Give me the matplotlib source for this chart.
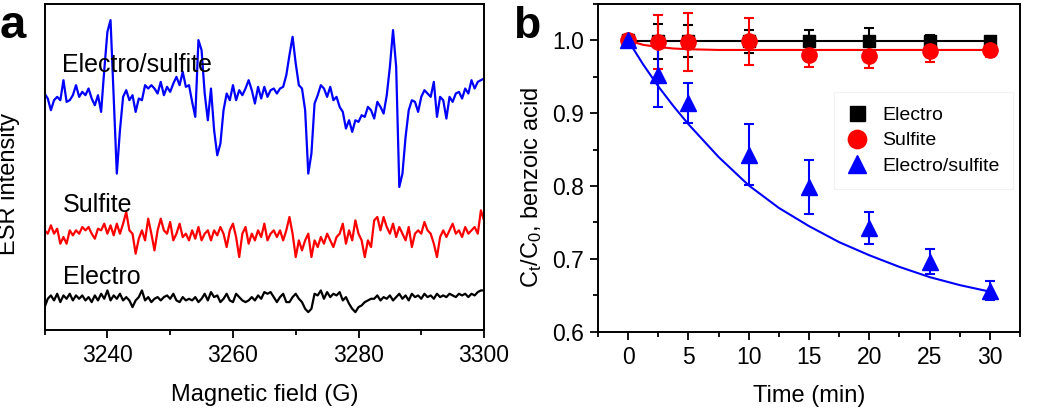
import matplotlib
matplotlib.use("Agg")
import matplotlib.pyplot as plt
import numpy as np
from matplotlib.ticker import MultipleLocator

plt.rcParams["font.family"] = ["Liberation Sans", "DejaVu Sans"]
plt.rcParams["mathtext.default"] = "regular"

# ---- panel a: ESR spectra (field sampled every 0.5 G, intensity in a.u.) ----
field = np.arange(3230, 3300.01, 0.5)

esr_electro_sulfite = [
    720, 705, 670, 700, 710, 700, 760, 695, 700, 715,
    745, 710, 725, 715, 735, 705, 685, 715, 665, 790,
    905, 940, 710, 480, 610, 710, 730, 700, 715, 665,
    705, 700, 745, 735, 745, 735, 720, 755, 715, 740,
    725, 750, 770, 745, 785, 740, 745, 695, 650, 880,
    850, 720, 640, 735, 610, 535, 570, 670, 720, 700,
    745, 700, 730, 715, 735, 760, 730, 690, 740, 705,
    740, 710, 730, 735, 720, 735, 740, 775, 835, 890,
    810, 745, 735, 670, 480, 540, 690, 715, 745, 735,
    710, 740, 700, 710, 680, 665, 615, 640, 605, 640,
    635, 655, 650, 680, 670, 645, 695, 680, 660, 715,
    800, 910, 800, 440, 480, 590, 670, 700, 695, 665,
    710, 730, 720, 710, 755, 650, 710, 700, 645, 710,
    695, 720, 725, 705, 735, 720, 760, 735, 755, 760,
    765]

esr_sulfite = [
    310, 300, 325, 300, 315, 270, 290, 270, 310, 295,
    310, 300, 320, 310, 320, 300, 285, 315, 310, 330,
    300, 325, 295, 330, 300, 330, 365, 310, 300, 240,
    285, 310, 280, 345, 300, 250, 310, 345, 310, 300,
    335, 280, 300, 330, 290, 300, 280, 310, 285, 320,
    280, 300, 310, 280, 310, 295, 320, 300, 260, 310,
    330, 290, 230, 300, 320, 270, 300, 280, 310, 290,
    330, 280, 300, 310, 290, 310, 280, 310, 350, 300,
    230, 280, 250, 280, 300, 230, 280, 260, 290, 270,
    300, 280, 260, 290, 300, 330, 270, 310, 280, 340,
    300, 280, 230, 280, 260, 340, 350, 310, 350, 320,
    300, 330, 290, 320, 300, 280, 320, 260, 300, 310,
    300, 335, 310, 300, 270, 230, 290, 310, 290, 310,
    330, 300, 310, 290, 320, 300, 310, 320, 300, 370,
    340]

esr_electro = [
    80, 105, 115, 100, 120, 95, 115, 105, 120, 100,
    115, 105, 115, 100, 110, 95, 115, 100, 120, 105,
    130, 100, 115, 105, 120, 100, 110, 100, 80, 100,
    110, 130, 100, 110, 95, 105, 110, 100, 110, 115,
    105, 120, 100, 95, 110, 100, 105, 100, 110, 95,
    105, 120, 100, 125, 110, 115, 95, 105, 120, 100,
    95, 120, 110, 100, 95, 100, 110, 100, 115, 105,
    125, 120, 125, 110, 95, 110, 120, 95, 95, 110,
    120, 105, 95, 75, 65, 75, 120, 115, 130, 105,
    125, 110, 120, 115, 125, 100, 110, 90, 75, 65,
    80, 85, 95, 100, 105, 105, 115, 100, 110, 105,
    115, 100, 110, 120, 105, 115, 100, 120, 110, 115,
    105, 120, 110, 115, 105, 120, 110, 115, 110, 120,
    115, 110, 120, 115, 120, 110, 120, 115, 125, 130,
    130]

# ---- panel b: benzoic acid removal ----
time = [0, 2.5, 5, 10, 15, 20, 25, 30]
ct_electro = [1.0, 0.999, 0.999, 0.999, 0.999, 0.999, 0.999, 0.999]
err_electro = [0.0, 0.024, 0.022, 0.016, 0.016, 0.018, 0.009, 0.006]
ct_sulfite = [1.0, 0.998, 0.998, 0.999, 0.980, 0.979, 0.985, 0.987]
err_sulfite = [0.0, 0.037, 0.040, 0.032, 0.017, 0.017, 0.015, 0.010]
ct_es = [1.0, 0.952, 0.914, 0.843, 0.799, 0.743, 0.696, 0.656]
err_es = [0.0, 0.044, 0.028, 0.042, 0.037, 0.022, 0.017, 0.013]

fit_time = [0, 1.25, 2.5, 3.75, 5, 7.5, 10, 12.5, 15, 17.5, 20, 22.5, 25, 27.5, 30]
fit_electro = [0.999] * len(fit_time)
fit_sulfite = [1.0, 0.994, 0.991, 0.989, 0.988, 0.987, 0.987, 0.987, 0.987,
               0.987, 0.987, 0.987, 0.987, 0.987, 0.987]
fit_es = [1.0, 0.967, 0.937, 0.910, 0.885, 0.840, 0.801, 0.770, 0.745,
          0.723, 0.705, 0.689, 0.675, 0.664, 0.655]

fig = plt.figure(figsize=(10.5, 4.09), dpi=100)

# panel a
ax1 = fig.add_axes([0.0425, 0.192, 0.4185, 0.798])
ax1.plot(field, esr_electro_sulfite, color="#0000ff", lw=1.6)
ax1.plot(field, esr_sulfite, color="#ff0000", lw=1.6)
ax1.plot(field, esr_electro, color="black", lw=1.6)
ax1.text(3232.8, 784, "Electro/sulfite", fontsize=18)
ax1.text(3232.9, 365, "Sulfite", fontsize=18)
ax1.text(3232.9, 150, "Electro", fontsize=18)
ax1.set_xlim(3230, 3300)
ax1.set_ylim(10, 988)
ax1.set_yticks([])
ax1.set_xticks([3240, 3260, 3280, 3300])
ax1.xaxis.set_minor_locator(MultipleLocator(10))
ax1.tick_params(axis="x", which="major", direction="out", length=6, width=1.3,
                labelsize=16.5, pad=4)
ax1.tick_params(axis="x", which="minor", direction="out", length=3.5, width=1.3)
ax1.set_xlabel("Magnetic field (G)", fontsize=17, labelpad=12)
ax1.set_ylabel("ESR intensity", fontsize=17)
ax1.yaxis.set_label_coords(-0.055, 0.45)
for s in ax1.spines.values():
    s.set_linewidth(1.4)

# panel b
ax2 = fig.add_axes([0.5695, 0.189, 0.402, 0.801])
ax2.plot(fit_time, fit_electro, color="black", lw=1.5)
ax2.plot(fit_time, fit_sulfite, color="#ff0000", lw=1.5)
ax2.plot(fit_time, fit_es, color="#0000ff", lw=1.5)
ax2.errorbar(time, ct_electro, yerr=err_electro, fmt="s", color="black",
             ms=9, capsize=3.5, elinewidth=1.5, capthick=1.5, label="Electro")
ax2.errorbar(time, ct_sulfite, yerr=err_sulfite, fmt="o", color="#ff0000",
             ms=11, capsize=3.5, elinewidth=1.5, capthick=1.5, label="Sulfite")
ax2.errorbar(time, ct_es, yerr=err_es, fmt="^", color="#0000ff",
             ms=11, capsize=3.5, elinewidth=1.5, capthick=1.5,
             label="Electro/sulfite")
ax2.set_xlim(-2.5, 32.5)
ax2.set_ylim(0.6, 1.05)
ax2.xaxis.set_major_locator(MultipleLocator(5))
ax2.xaxis.set_minor_locator(MultipleLocator(2.5))
ax2.yaxis.set_minor_locator(MultipleLocator(0.05))
ax2.set_yticks([0.6, 0.7, 0.8, 0.9, 1.0])
ax2.tick_params(which="major", direction="out", length=6, width=1.3,
                labelsize=16.5, pad=4)
ax2.tick_params(which="minor", direction="out", length=3.5, width=1.3)
ax2.set_xlabel("Time (min)", fontsize=17, labelpad=12)
ax2.set_ylabel("C$_t$/C$_0$, benzoic acid", fontsize=17)
ax2.yaxis.set_label_coords(-0.128, 0.44)
for s in ax2.spines.values():
    s.set_linewidth(1.4)

handles, labels = ax2.get_legend_handles_labels()
handles = [h[0] for h in handles]
leg = ax2.legend(handles, labels, loc="upper left", bbox_to_anchor=(0.535, 0.76),
                 fontsize=14, frameon=True, fancybox=False, edgecolor="#eeeeee",
                 handlelength=1.0, handletextpad=0.8, labelspacing=0.42,
                 borderpad=0.7, markerscale=1.2)
leg.get_frame().set_linewidth(0.8)

fig.text(0.0, 0.99, "a", fontsize=34, fontweight="bold", va="top", ha="left")
fig.text(0.489, 0.985, "b", fontsize=32, fontweight="bold", va="top", ha="left")

fig.savefig("out.png", dpi=100)
